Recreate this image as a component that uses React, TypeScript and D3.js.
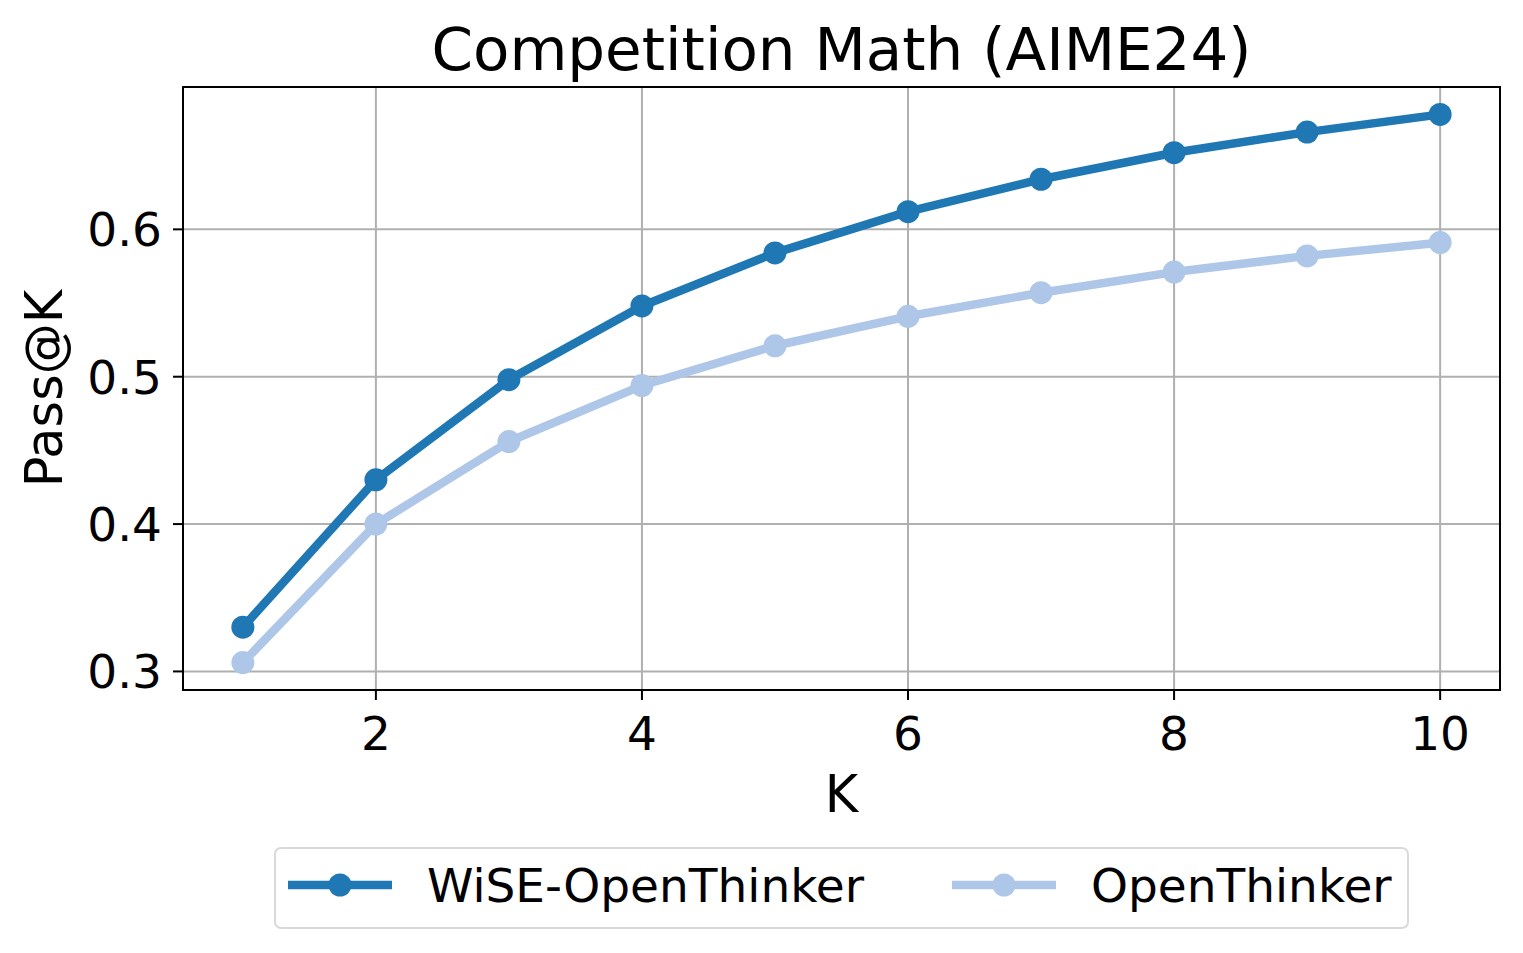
import React from "react";
import * as d3 from "d3";

const kValues = [1, 2, 3, 4, 5, 6, 7, 8, 9, 10];
const wiseValues = [0.330, 0.430, 0.498, 0.548, 0.584, 0.612, 0.634, 0.652, 0.666, 0.678];
const openValues = [0.306, 0.400, 0.456, 0.494, 0.521, 0.541, 0.557, 0.571, 0.582, 0.591];
const xTicks = [2, 4, 6, 8, 10];
const yTicks = [0.3, 0.4, 0.5, 0.6];
const seriesNames = ["WiSE-OpenThinker", "OpenThinker"];
const seriesColors = ["#1f77b4", "#aec7e8"];

const W = 1523, H = 953;
const L = 183, R = 1500, T = 87, B = 690;
const FONT = "DejaVu Sans, sans-serif";

export default function App() {
  const x = d3.scaleLinear().domain([0.55, 10.45]).range([L, R]);
  const y = d3.scaleLinear().domain([0.2874, 0.6966]).range([B, T]);
  const series = [wiseValues, openValues];
  const line = d3.line<number>().x((_, i) => x(kValues[i])).y((d) => y(d));
  const legendItems = [
    { lx: 288, tx: 427 },
    { lx: 952, tx: 1091 },
  ];
  return (
    <svg width={W} height={H} style={{ position: "absolute", left: 0, top: 0, background: "#fff" }} fontFamily={FONT}>
      <rect x={0} y={0} width={W} height={H} fill="#fff" />
      {xTicks.map((t) => (
        <line key={"gx" + t} x1={x(t)} x2={x(t)} y1={T} y2={B} stroke="#b0b0b0" strokeWidth={2} />
      ))}
      {yTicks.map((t) => (
        <line key={"gy" + t} x1={L} x2={R} y1={y(t)} y2={y(t)} stroke="#b0b0b0" strokeWidth={2} />
      ))}
      {series.map((s, si) => (
        <g key={"s" + si}>
          <path d={line(s) || ""} fill="none" stroke={seriesColors[si]} strokeWidth={8.5} strokeLinejoin="round" strokeLinecap="square" />
          {s.map((v, i) => (
            <circle key={i} cx={x(kValues[i])} cy={y(v)} r={11.5} fill={seriesColors[si]} />
          ))}
        </g>
      ))}
      <rect x={L} y={T} width={R - L} height={B - T} fill="none" stroke="#000" strokeWidth={2} />
      {xTicks.map((t) => (
        <g key={"xt" + t}>
          <line x1={x(t)} x2={x(t)} y1={B} y2={B + 10} stroke="#000" strokeWidth={2} />
          <text x={x(t)} y={B + 60} textAnchor="middle" fontSize={47} fill="#000">{t}</text>
        </g>
      ))}
      {yTicks.map((t) => (
        <g key={"yt" + t}>
          <line x1={L - 10} x2={L} y1={y(t)} y2={y(t)} stroke="#000" strokeWidth={2} />
          <text x={L - 21} y={y(t) + 17} textAnchor="end" fontSize={47} fill="#000">{t.toFixed(1)}</text>
        </g>
      ))}
      <text x={(L + R) / 2} y={812} textAnchor="middle" fontSize={51} fill="#000">K</text>
      <text transform={`translate(62,${(T + B) / 2}) rotate(-90)`} textAnchor="middle" fontSize={51} fill="#000">Pass@K</text>
      <text x={(L + R) / 2} y={70} textAnchor="middle" fontSize={59.5} fill="#000">Competition Math (AIME24)</text>
      <rect x={275} y={848} width={1133} height={80} rx={6} fill="#fff" stroke="#d9d9d9" strokeWidth={2} />
      {legendItems.map((it, i) => (
        <g key={"lg" + i}>
          <line x1={it.lx} x2={it.lx + 104} y1={885} y2={885} stroke={seriesColors[i]} strokeWidth={8.5} />
          <circle cx={it.lx + 52} cy={885} r={11.5} fill={seriesColors[i]} />
          <text x={it.tx} y={902} fontSize={47} fill="#000">{seriesNames[i]}</text>
        </g>
      ))}
    </svg>
  );
}
